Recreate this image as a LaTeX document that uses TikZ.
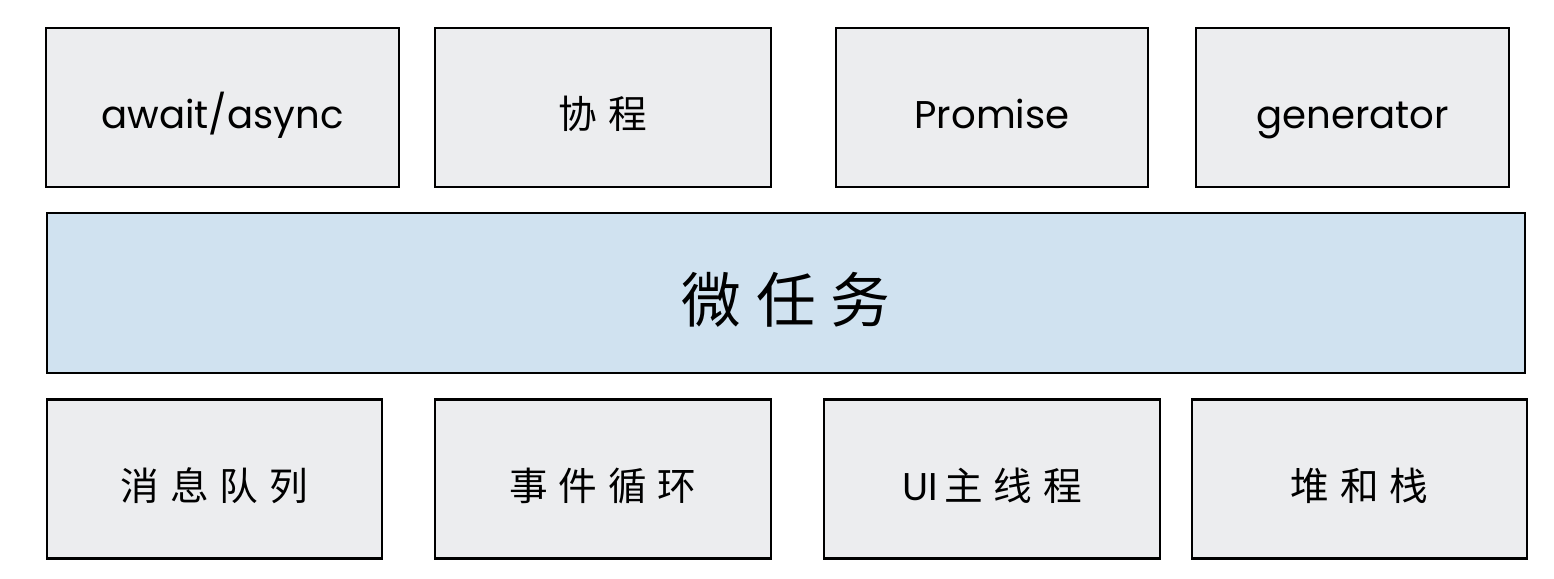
\documentclass[tikz,border=0pt]{standalone}
\usepackage{fontspec}
\setmainfont{Poppins}
\newfontfamily\cjk[LetterSpace=28]{Noto Sans CJK SC}
\newfontfamily\cjkbig[LetterSpace=25]{Noto Sans CJK SC}
\definecolor{boxgray}{HTML}{ECEDEF}
\definecolor{boxblue}{HTML}{D0E2F0}
\begin{document}
\begin{tikzpicture}[x=0.02cm,y=-0.02cm,
   cell/.style={draw=black,line width=1.3pt,fill=boxgray,inner sep=0pt,
     minimum height=159*0.02cm,minimum width=#1*0.02cm,
     text height=0.86cm,text depth=0cm,font=\fontsize{22}{26}\selectfont},
   han/.style={font=\cjk\fontsize{22}{26}\selectfont},
   band/.style={draw=black,line width=1.3pt,fill=boxblue,inner sep=0pt,
     minimum height=160*0.02cm,minimum width=1478*0.02cm,
     text height=1.16cm,text depth=0cm,font=\cjkbig\fontsize{34}{38}\selectfont}]
   \useasboundingbox (0,0) rectangle (1554,578);

   % top row
   \node[cell=353] (await) at (222.5,107.5) {await/async};
   \node[cell=336,han] (coroutine) at (603,107.5) {协程};
   \node[cell=312] (promise) at (992,107.5) {Promise};
   \node[cell=313] (generator) at (1352.5,107.5) {generator};

   % micro task
   \node[band] (microtask) at (786,293) {微任务};

   % bottom row
   \node[cell=335,han] (queue) at (214.5,479) {消息队列};
   \node[cell=336,han] (eventloop) at (603,479) {事件循环};
   \node[cell=336,han] (uithread) at (992,479) {{\rmfamily UI}\,主线程};
   \node[cell=335,han] (heapstack) at (1359.5,479) {堆和栈};
\end{tikzpicture}
\end{document}
